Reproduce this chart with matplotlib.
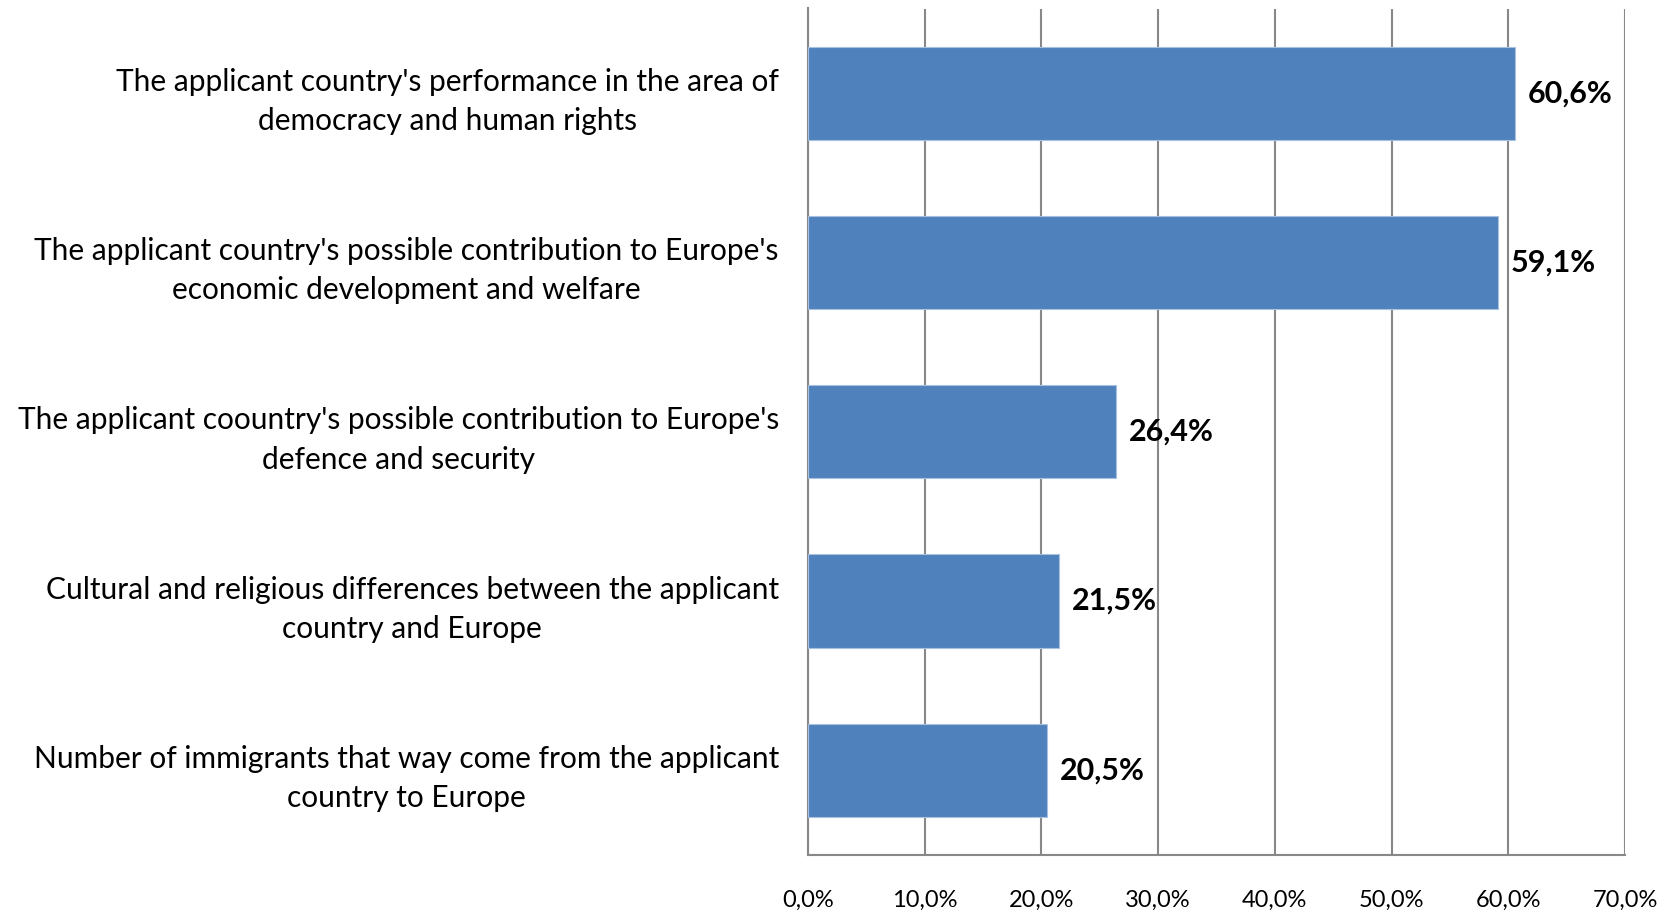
import matplotlib
matplotlib.use("Agg")
import matplotlib.pyplot as plt
from matplotlib.ticker import FuncFormatter

categories = [
    "The applicant country's performance in the area of\ndemocracy and human rights",
    "The applicant country's possible contribution to Europe's\neconomic development and welfare",
    "The applicant coountry's possible contribution to Europe's\ndefence and security",
    "Cultural and religious differences between the applicant\ncountry and Europe",
    "Number of immigrants that way come from the applicant\ncountry to Europe",
]
values = [60.6, 59.1, 26.4, 21.5, 20.5]
xticks = [0, 10, 20, 30, 40, 50, 60, 70]

plt.rcParams['font.family'] = ['Lato', 'DejaVu Sans']

fig = plt.figure(figsize=(16.71, 9.14), dpi=100)
ax = fig.add_axes([808/1671, 1-855/914, (1625-808)/1671, (855-8.5)/914])

ypos = list(range(len(categories)))[::-1]
bars = ax.barh(ypos, values, height=0.55, color="#4F81BD", edgecolor="#A9C1E0",
               linewidth=0.8, zorder=3)

ax.set_xlim(0, 70)
ax.set_ylim(-0.5, len(categories) - 0.5)
ax.set_xticks(xticks)
ax.set_xticklabels([f"{v:.1f}%".replace('.', ',') for v in xticks])
ax.set_yticks(ypos)
ax.set_yticklabels(categories, fontsize=21.5, ha='right', multialignment='center',
                   linespacing=1.5)
ax.tick_params(axis='y', length=0, pad=21)
ax.tick_params(axis='x', length=0, pad=25, labelsize=17)

ax.grid(axis='x', color='#888888', linewidth=1.5, zorder=0)
ax.set_axisbelow(True)
for s in ['top', 'right']:
    ax.spines[s].set_visible(False)
for s in ['left', 'bottom']:
    ax.spines[s].set_color('#888888')
    ax.spines[s].set_linewidth(1.5)

for y, v in zip(ypos, values):
    ax.annotate(f"{v:.1f}%".replace('.', ','), xy=(v, y), xytext=(9, 0),
                textcoords='offset points', ha='left', va='center',
                fontsize=22, fontweight='bold', color='black', zorder=4)

fig.savefig("out.png", dpi=100)
